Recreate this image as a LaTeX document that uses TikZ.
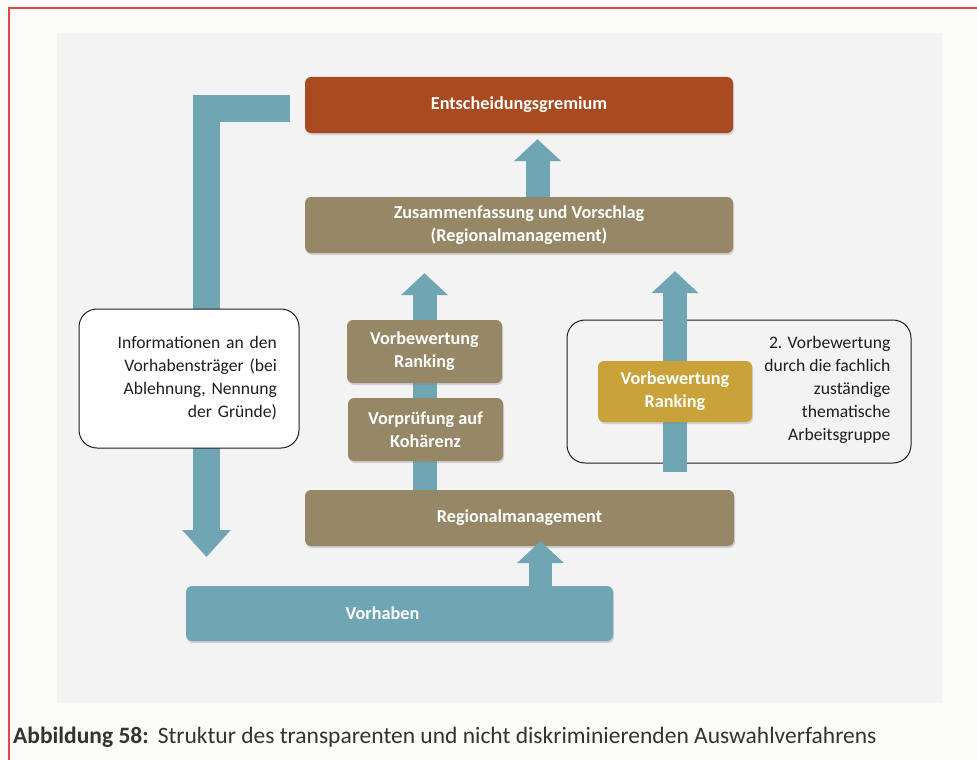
\documentclass[tikz,border=0pt]{standalone}
\usepackage{fontspec}
\setmainfont{Carlito}
\usepackage{tikz}
\usetikzlibrary{positioning, calc, arrows.meta, shadows, backgrounds}
\definecolor{Paper}{HTML}{FBFBF8}
\definecolor{Panel}{HTML}{F3F3F3}
\definecolor{Frame}{HTML}{E8454A}
\definecolor{Rust}{HTML}{A94A20}
\definecolor{Olive}{HTML}{968866}
\definecolor{Teal}{HTML}{70A6B3}
\definecolor{Gold}{HTML}{C9A23A}
\definecolor{Dark}{HTML}{1E1E1E}
\definecolor{CapText}{HTML}{333333}

\begin{document}
\begin{tikzpicture}[x=1pt, y=-1pt,
    box/.style={rounded corners=6pt, inner sep=4pt, text=white, align=center,
        font=\fontsize{18.2}{23}\selectfont\bfseries,
        drop shadow={shadow xshift=1pt, shadow yshift=-2pt, opacity=0.3}},
    note/.style={draw=Dark, line width=1pt, rounded corners=18pt},
    notetext/.style={text=Dark, align=right, font=\fontsize{17.6}{23}\selectfont},
    flow/.style={draw=Teal, line width=24pt, -{Triangle[width=46pt, length=22pt]}}]
\useasboundingbox (0,0) rectangle (977,760);

\begin{scope}[on background layer]
    \fill[Paper] (0,0) rectangle (977,760);
    \fill[Panel] (57,33) rectangle (942,703);
    \draw[Frame, line width=1.5pt] (977,8) -- (9,8) -- (9,760);
    % Arbeitsgruppe frame
    \node[note, minimum width=344pt, minimum height=143pt] (grp) at (739,391.5) {};
\end{scope}
\node[notetext, inner sep=0pt] (grptxt) [left=21pt of grp.east, yshift=2pt]
    {2. Vorbewertung\\durch die fachlich\\zuständige\\thematische\\Arbeitsgruppe};

% main chain
\node[box, fill=Rust, minimum width=428pt, minimum height=56pt] (ent) at (519,105) {Entscheidungsgremium};
\node[box, fill=Olive, minimum width=428pt, minimum height=56pt] (zus) at (519,225)
    {Zusammenfassung und Vorschlag\\(Regionalmanagement)};
\node[box, fill=Olive, minimum width=155pt, minimum height=63pt] (rank) at (424.5,351.5) {Vorbewertung\\Ranking};
\node[box, fill=Olive, minimum width=155pt, minimum height=63pt] (koh) at (425.5,429.5) {Vorprüfung auf\\Kohärenz};
\node[box, fill=Gold, minimum width=154pt, minimum height=61pt] (gold) at (675,391.5) {Vorbewertung\\Ranking};
\node[box, fill=Olive, minimum width=429pt, minimum height=56pt] (reg) at (519.5,518) {Regionalmanagement};
\node[box, fill=Teal, minimum width=427pt, minimum height=55pt] (vor) at (399.5,613.5) {Vorhaben\hspace{34pt}};

\node[note, notetext, fill=white, text width=176pt, inner xsep=22pt, minimum height=139pt] (info) at (189,378.5)
    {Informationen an den\\Vorhabensträger (bei\\Ablehnung, Nennung\\der Gründe)\\[10pt]};

% arrows behind the boxes
\coordinate (fbstart) at (290,108.5);
\coordinate (fbtip) at (206.5,557);
\begin{scope}[on background layer]
    \draw[flow, line width=27pt, -{Triangle[width=47pt, length=27pt]}] (fbstart) -| (fbtip);
    \draw[flow] ([xshift=18.5pt]zus.north) -- ([xshift=18.5pt, yshift=-6pt]ent.south);
    \draw[flow] (reg.north -| rank.north) -- ([yshift=-20pt]zus.south -| rank.north);
    \draw[flow] ([yshift=-50pt]gold.south) -- ([yshift=-18pt]gold.north |- zus.south);
\end{scope}
\draw[flow, line width=23pt] ([xshift=141pt, yshift=-6pt]vor.north) -- ([xshift=21pt, yshift=5pt]reg.south);

% caption
\node[anchor=west, inner sep=0pt, text=CapText, font=\fontsize{23.5}{26}\selectfont] (cap) at (13,737)
    {\textbf{Abbildung 58:}\hspace{9pt}Struktur des transparenten und nicht diskriminierenden Auswahlverfahrens};
\end{tikzpicture}
\end{document}
